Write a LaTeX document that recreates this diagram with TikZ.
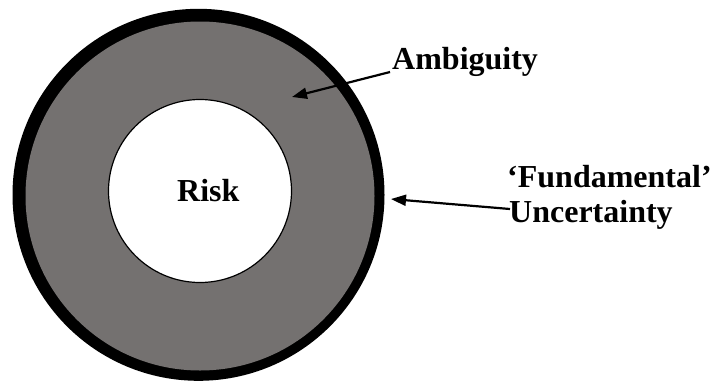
\documentclass[tikz,border=0pt]{standalone}
\usepackage{fontspec}
\setmainfont{Liberation Serif}
\usetikzlibrary{arrows.meta}
\definecolor{ringgray}{RGB}{116,113,112}
\begin{document}
\begin{tikzpicture}[x=1pt,y=-1pt,
  lbl/.style={font=\fontsize{32}{36}\selectfont\bfseries, inner sep=0pt, anchor=base west},
  pointer/.style={line width=2.2pt, -{Triangle[length=15pt,width=11pt]}}]
\useasboundingbox (0,0) rectangle (714,381);
% outer black ring
\fill[black] (198.5,194.8) circle[radius=186];
\fill[ringgray] (200,196) circle[radius=174.5];
% inner white circle
\node[circle, draw=black, line width=1.2pt, fill=white, minimum size=183pt, inner sep=0pt] (risk) at (200,191) {};
\node[lbl] (risklbl) at (177,201) {Risk};
\node[lbl] (amb) at (392,69) {Ambiguity};
\node[lbl] (fund) at (507,187) {‘Fundamental’};
\node[lbl] (unc) at (509,222) {Uncertainty};
\coordinate (ambstart) at (390,72);
\coordinate (ambtip) at (292,97);
\coordinate (uncstart) at (510,209);
\coordinate (unctip) at (391,199);
\draw[pointer] (ambstart) -- (ambtip);
\draw[pointer] (uncstart) -- (unctip);
\end{tikzpicture}
\end{document}
